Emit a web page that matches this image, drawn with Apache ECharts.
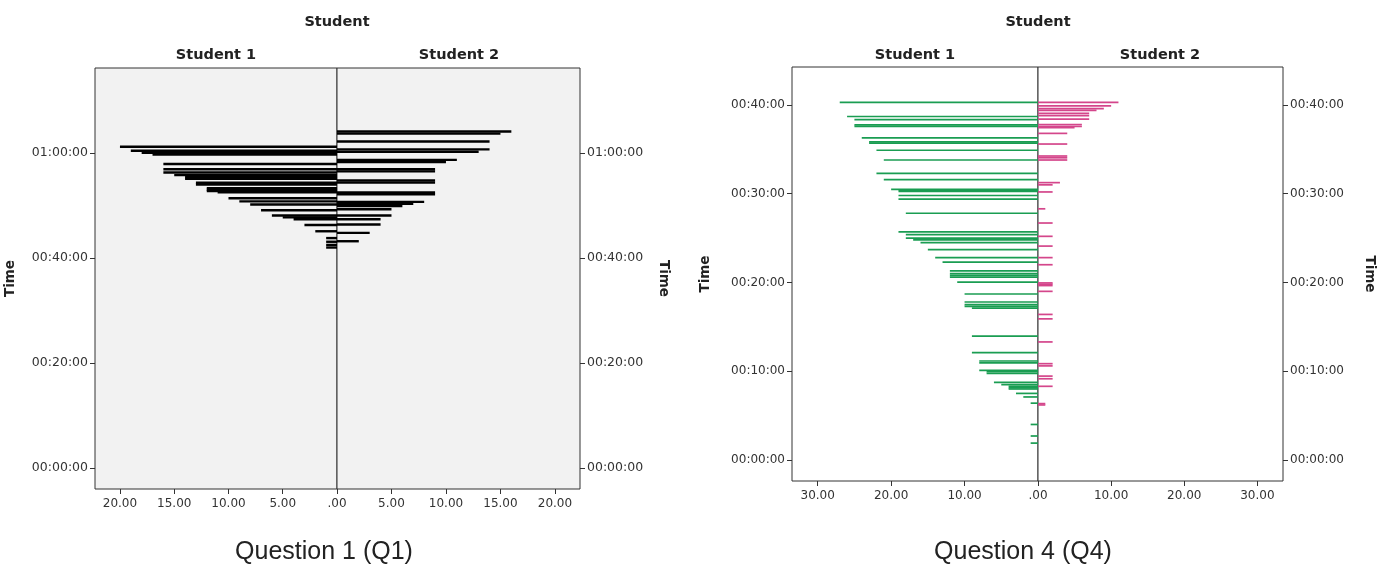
<!DOCTYPE html>
<html>
<head>
<meta charset="utf-8">
<script src="https://cdn.jsdelivr.net/npm/echarts@6/dist/echarts.min.js"></script>
<style>
html,body{margin:0;padding:0;background:#fff;}
#chart{width:1381px;height:566px;}
</style>
</head>
<body>
<div id="chart"></div>
<script>
// ---------- DATA (time in minutes, value = length of bar) ----------
// Question 1, Student 1
var q1s1Times  = [61.2, 60.45, 60.06, 59.7, 57.9, 56.9, 56.3, 55.8, 55.4, 55.1, 54.35, 54.0, 53.3, 53.0, 52.75, 52.5, 51.4, 50.8, 50.2, 49.1, 48.1, 47.75, 47.4, 46.3, 45.1, 43.8, 43.1, 42.5, 42.0];
var q1s1Values = [20,   19,    18,    17,   16,   16,   16,   15,   14,   14,   13,    13,   12,   12,   12,    11,   10,   9,    8,    7,    6,    5,     4,    3,    2,    1,    1,    1,    1];
// Question 1, Student 2
var q1s2Times  = [64.1, 63.7, 62.2, 60.7, 60.25, 58.7, 58.3, 56.9, 56.5, 54.8, 54.4, 52.5, 52.15, 50.7, 50.35, 49.9, 49.3, 48.1, 47.4, 46.4, 44.8, 43.2];
var q1s2Values = [16,   15,   14,   14,   13,    11,   10,   9,    9,    9,    9,    9,    9,     8,    7,     6,    5,    5,    4,    4,    3,    2];
// Question 4, Student 1
var q4s1Times  = [40.3, 38.7, 38.35, 37.75, 37.6, 36.3, 35.85, 35.7, 34.9, 33.8, 32.3, 31.6, 30.5, 30.4, 30.25, 29.8, 29.4, 27.8, 25.7, 25.4, 25.0, 24.8, 24.5, 23.7, 22.8, 22.3, 21.3, 21.0, 20.8, 20.6, 20.05, 18.7, 17.8, 17.5, 17.3, 17.1, 13.95, 12.1, 11.15, 10.95, 10.1, 9.95, 9.75, 8.75, 8.5, 8.3, 8.15, 8.0, 7.5, 7.1, 6.4, 4.0, 2.7, 1.9];
var q4s1Values = [27,   26,   25,    25,    25,   24,   23,    23,   22,   21,   22,   21,   20,   19,   19,    19,   19,   18,   19,   18,   18,   17,   16,   15,   14,   13,   12,   12,   12,   12,   11,    10,   10,   10,   10,   9,    9,     9,    8,     8,     8,    7,    7,    6,    5,   4,   4,    4,   3,   2,   1,   1,   1,   1];
// Question 4, Student 2
var q4s2Times  = [40.3, 39.9, 39.6, 39.4, 39.05, 38.8, 38.4, 37.8, 37.6, 37.45, 36.8, 35.6, 34.25, 34.05, 33.8, 31.25, 31.0, 30.2, 28.3, 26.7, 25.2, 24.1, 22.8, 22.0, 19.95, 19.8, 19.65, 19.0, 16.4, 15.9, 13.3, 10.85, 10.6, 9.45, 9.15, 8.3, 6.35, 6.2];
var q4s2Values = [11,   10,   9,    8,    7,     7,    7,    6,    6,    5,     4,    4,    4,     4,     4,    3,     2,    2,    1,    2,    2,    2,    2,    2,    2,     2,    2,    2,    2,    2,    2,    2,     2,    2,    2,    2,   1,    1];
// tick labels
var q1TimeTicks = [0, 20, 40, 60];
var q4TimeTicks = [0, 10, 20, 30, 40];
var q1CountInterval = 5;
var q4CountInterval = 10;
var headerText = 'Student';
var groupNames = ['Student 1', 'Student 2'];
var captions = ['Question 1 (Q1)', 'Question 4 (Q4)'];

// ---------- helpers ----------
function zip(vals, times){ var out=[]; for(var i=0;i<vals.length;i++) out.push([vals[i], times[i]]); return out; }
function pad(n){ return (n<10?'0':'')+n; }
function fmtTime(m){ var h=Math.floor(m/60), mm=Math.round(m-h*60); return pad(h)+':'+pad(mm)+':00'; }
function fmtCountLeft(v){ return v===0 ? '.00' : v.toFixed(2); }
function fmtCountRight(v){ return v===0 ? '' : v.toFixed(2); }
function makeRender(th){
  return function(params, api){
    var v = api.value(0), t = api.value(1);
    var p0 = api.coord([0, t]), p1 = api.coord([v, t]);
    return {type:'rect', shape:{x:Math.min(p0[0],p1[0]), y:p0[1]-th/2, width:Math.abs(p1[0]-p0[0]), height:th},
            style:{fill: api.visual('color')}};
  };
}
var FF = 'DejaVu Sans';
var labelColor = '#333';

function xAxisCfg(grid, max, interval, inverse, fmt){
  return {gridIndex:grid, type:'value', min:0, max:max, interval:interval, inverse:inverse, position:'bottom',
    axisLine:{show:false, onZero:false}, splitLine:{show:false},
    axisTick:{show:true, length:5, lineStyle:{color:'#333'}},
    axisLabel:{formatter:fmt, color:labelColor, fontSize:12, fontFamily:FF, margin:9}};
}
function yAxisCfg(grid, min, max, ticks, pos, gap, fs){
  return {gridIndex:grid, type:'value', min:min, max:max, position:pos,
    name:'Time', nameLocation:'middle', nameGap:gap, nameRotate: pos==='left'?90:-90,
    nameTextStyle:{fontWeight:'bold', fontSize:13.5, color:'#222', fontFamily:FF},
    axisLine:{show:false, onZero:false}, splitLine:{show:false},
    axisTick:{show:true, length:5, customValues:ticks, lineStyle:{color:'#333'}},
    axisLabel:{customValues:ticks, formatter:fmtTime, color:labelColor, fontSize:fs, fontFamily:FF, margin:7}};
}
function gridCfg(left, top, width, height, bg){
  return {left:left, top:top, width:width, height:height, show:true, backgroundColor:bg, borderColor:'#333', borderWidth:1};
}
function txt(x, y, s, size, weight, family){
  return {type:'text', x:x, y:y, style:{text:s, fontSize:size, fontWeight:weight, fontFamily:family, fill:'#222', align:'center', verticalAlign:'middle'}};
}
function series(xi, vals, times, color, th){
  return {type:'custom', xAxisIndex:xi, yAxisIndex:xi, data:zip(vals, times), encode:{x:0, y:1},
    renderItem:makeRender(th), itemStyle:{color:color}, silent:true, clip:true};
}

var q1Max = 22.3, q4Max = 33.5;
var option = {
  animation:false,
  grid:[
    gridCfg(95, 68, 242, 421, '#f2f2f2'),
    gridCfg(337, 68, 243, 421, '#f2f2f2'),
    gridCfg(792, 67, 246, 414, '#ffffff'),
    gridCfg(1038, 67, 245, 414, '#ffffff')
  ],
  xAxis:[
    xAxisCfg(0, q1Max, q1CountInterval, true, fmtCountLeft),
    xAxisCfg(1, q1Max, q1CountInterval, false, fmtCountRight),
    xAxisCfg(2, q4Max, q4CountInterval, true, fmtCountLeft),
    xAxisCfg(3, q4Max, q4CountInterval, false, fmtCountRight)
  ],
  yAxis:[
    yAxisCfg(0, -4, 76.2, q1TimeTicks, 'left', 78, 12.5),
    yAxisCfg(1, -4, 76.2, q1TimeTicks, 'right', 76, 12.5),
    yAxisCfg(2, -2.37, 44.28, q4TimeTicks, 'left', 80, 12),
    yAxisCfg(3, -2.37, 44.28, q4TimeTicks, 'right', 79, 12)
  ],
  series:[
    series(0, q1s1Values, q1s1Times, '#000000', 2.4),
    series(1, q1s2Values, q1s2Times, '#000000', 2.4),
    series(2, q4s1Values, q4s1Times, '#1a9d52', 1.7),
    series(3, q4s2Values, q4s2Times, '#d4468b', 1.7)
  ],
  graphic:[
    txt(337, 22, headerText, 14.5, 'bold', FF),
    txt(216, 55, groupNames[0], 14.5, 'bold', FF),
    txt(459, 55, groupNames[1], 14.5, 'bold', FF),
    txt(1038, 22, headerText, 14.5, 'bold', FF),
    txt(915, 55, groupNames[0], 14.5, 'bold', FF),
    txt(1160, 55, groupNames[1], 14.5, 'bold', FF),
    txt(324, 552, captions[0], 25, 'normal', 'Liberation Sans'),
    txt(1023, 552, captions[1], 25, 'normal', 'Liberation Sans')
  ]
};
var chart = echarts.init(document.getElementById('chart'));
chart.setOption(option);
</script>
</body>
</html>
